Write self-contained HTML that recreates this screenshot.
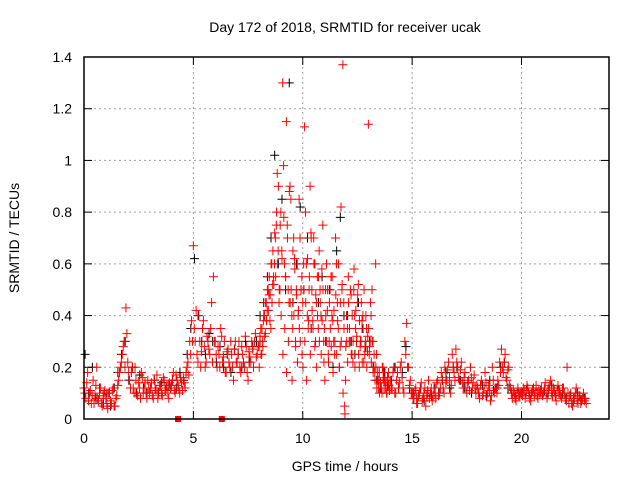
<!DOCTYPE html>
<html><head><meta charset="utf-8"><style>
html,body{margin:0;padding:0;background:#fff;}
svg{display:block;font-family:"Liberation Sans",sans-serif;}
</style></head><body>
<svg id="chart" width="640" height="480" viewBox="0 0 640 480">
<rect width="640" height="480" fill="#fff"/>
<text x="345" y="32" text-anchor="middle" font-size="14" fill="#000">Day 172 of 2018, SRMTID for receiver ucak</text>
<text x="345" y="471" text-anchor="middle" font-size="14" fill="#000">GPS time / hours</text>
<text transform="translate(19,238) rotate(-90)" text-anchor="middle" font-size="14" fill="#000">SRMTID / TECUs</text>
<g id="grid"></g><g id="ticks"></g><g id="marks"></g>
<rect x="84" y="57" width="525" height="362" fill="none" stroke="#000" stroke-width="1.5"/>
</svg>
<script>
const xTicks=[0,5,10,15,20];
const yTicks=[0,0.2,0.4,0.6,0.8,1,1.2,1.4];
const yTickLabels=["0","0.2","0.4","0.6","0.8","1","1.2","1.4"];
const redA=[
[.12,.08,.18,.1,.06,.15,.09,.2,.07,.12,.05,.1],
[.08,.04,.1,.06,.12,.05,.09,.15,.2,.25,.3,.43],
[.22,.15,.18,.12,.2,.1,.14,.08,.16,.12,.1,.15],
[.1,.14,.08,.12,.17,.1,.13,.09,.15,.12,.1,.14],
[.13,.18,.1,.15,.12,.16,.11,.14,.18,.22,.3,.38],
[.67,.3,.25,.4,.2,.35,.28,.22,.3,.25,.45,.55],
[.3,.2,.25,.35,.22,.3,.18,.27,.2,.25,.15,.3],
[.22,.3,.18,.25,.2,.28,.15,.24,.3,.2,.33,.25],
[.28,.35,.3,.4,.45,.5,.38,.6,.55,.7,.95,.45],
[.8,1.3,.6,1.15,.5,.9,.4,.7,.3,.6,.85,.5],
[.45,1.13,.6,.35,.9,.5,.7,.3,.55,.65,.4,.75],
[.35,.6,.25,.5,.4,.3,.7,.45,.2,.82,1.37,.05],
[.4,.55,.3,.25,.5,.35,.45,.2,.3,.4,.25,.35],
[1.14,.3,.5,.2,.6,.15,.18,.12,.2,.15,.1,.18],
[.15,.12,.2,.1,.18,.14,.22,.12,.3,.37,.2,.15],
[.1,.08,.12,.06,.1,.14,.08,.12,.09,.15,.1,.07],
[.12,.08,.15,.1,.18,.12,.2,.15,.22,.1,.25,.18],
[.27,.2,.15,.22,.12,.18,.1,.15,.2,.12,.17,.1],
[.12,.08,.15,.1,.18,.09,.13,.07,.2,.1,.12,.15],
[.22,.27,.18,.25,.15,.2,.12,.08,.1,.07,.12,.09],
[.1,.12,.08,.13,.1,.07,.11,.09,.13,.08,.1,.12],
[.1,.14,.08,.12,.15,.09,.11,.07,.13,.1,.08,.12],
[.08,.2,.06,.1,.05,.08,.12,.06,.09,.07,.1,.08]];
const redB=[
[.1,.14,.07,.11,.09,.06,.13,.08,.1,.06,.09,.11],
[.06,.1,.07,.11,.05,.08,.13,.18,.22,.28,.2,.33],
[.18,.12,.2,.1,.15,.09,.12,.18,.1,.14,.08,.12],
[.12,.09,.15,.11,.08,.13,.1,.16,.11,.13,.08,.12],
[.15,.11,.17,.13,.1,.14,.16,.12,.2,.17,.25,.3],
[.35,.42,.22,.3,.26,.38,.2,.32,.27,.35,.22,.3],
[.25,.28,.2,.32,.24,.18,.26,.22,.3,.2,.27,.22],
[.25,.2,.28,.22,.32,.18,.26,.22,.27,.3,.24,.28],
[.32,.25,.38,.33,.42,.48,.35,.52,.6,.75,.65,.5],
[.65,.98,.55,.75,.45,.85,.35,.62,.5,.4,.7,.55],
[.6,.8,.4,.5,.72,.38,.6,.45,.35,.5,.58,.3],
[.5,.42,.3,.55,.38,.25,.6,.35,.28,.5,.45,.15],
[.35,.3,.48,.22,.4,.3,.52,.28,.38,.22,.3,.26],
[.25,.4,.3,.18,.25,.12,.14,.1,.15,.12,.16,.11],
[.12,.18,.1,.15,.12,.2,.16,.1,.25,.2,.13,.1],
[.08,.11,.06,.09,.12,.07,.1,.05,.11,.08,.12,.09],
[.1,.14,.09,.12,.16,.1,.14,.19,.16,.13,.2,.15],
[.22,.16,.19,.14,.16,.12,.14,.11,.16,.14,.12,.13],
[.1,.13,.09,.12,.14,.1,.11,.09,.15,.12,.1,.13],
[.18,.2,.22,.16,.19,.13,.1,.11,.08,.1,.09,.1],
[.09,.11,.1,.12,.08,.1,.12,.1,.09,.11,.1,.09],
[.12,.1,.11,.13,.1,.12,.09,.11,.1,.09,.12,.1],
[.07,.1,.09,.06,.08,.1,.07,.09,.06,.08,.07,.06]];
const redCHours=[8,9,10,11,12,13];
const redC=[
[.2,.3,.25,.35,.28,.4,.32,.45,.38,.5,.42,.55,.48,.6,.45,.65,.52,.72,.55,.8,.6,.9,.5,.75],
[.4,.62,.25,.78,.35,.55,.18,.7,.3,.88,.45,.5,.15,.65,.4,.58,.28,.48,.22,.42,.35,.3,.5,.25],
[.2,.5,.3,.45,.15,.62,.38,.55,.25,.7,.42,.35,.6,.28,.48,.2,.4,.55,.3,.45,.25,.38,.5,.22],
[.15,.4,.3,.5,.22,.45,.35,.28,.55,.18,.42,.3,.48,.25,.38,.6,.2,.45,.3,.52,.1,.35,.02,.28],
[.3,.22,.45,.35,.5,.25,.4,.3,.58,.2,.42,.32,.48,.25,.38,.3,.45,.22,.35,.5,.28,.4,.2,.32],
[.35,.28,.45,.22,.3,.18,.25,.15,.2,.12,.18,.15,.1,.14,.12,.2,.16,.12,.18,.14,.1,.16,.13,.11]];
const black=[
[.25,.1,.2,.08,.12,.06],[.1,.05,.12,.18,.25,.3],[.15,.2,.1,.17,.12,.1],
[.12,.15,.1,.14,.11,.13],[.15,.12,.18,.15,.25,.35],[.62,.4,.3,.25,.33,.3],
[.22,.28,.2,.25,.18,.27],[.25,.2,.3,.22,.28,.3],[.4,.45,.55,.7,1.02,.6],
[.85,.5,1.3,.45,.6,.82],[.5,.7,.35,.6,.45,.55],[.3,.5,.2,.65,.78,.4],
[.4,.3,.25,.45,.35,.28],[.3,.2,.15,.12,.18,.13],[.15,.2,.12,.18,.28,.12],
[.1,.08,.12,.07,.1,.09],[.12,.1,.15,.18,.12,.2],[.2,.15,.12,.14,.1,.12],
[.1,.13,.09,.15,.11,.12],[.2,.22,.12,.1,.09,.1],[.1,.11,.09,.12,.1,.11],
[.11,.1,.13,.09,.11,.1],[.08,.09,.07,.1,.07,.08]];
const zeroTimes=[4.3,6.3];

const NS="http://www.w3.org/2000/svg";
const X0=84,X1=609,Y0=419,Y1=57,XMAX=24,YMAX=1.4;
function xs(v){return X0+(X1-X0)*v/XMAX;}
function ys(v){return Y0-(Y0-Y1)*v/YMAX;}
function mk(tag,attrs,parent){const e=document.createElementNS(NS,tag);for(const k in attrs)e.setAttribute(k,attrs[k]);parent.appendChild(e);return e;}
const grid=document.getElementById('grid'),ticks=document.getElementById('ticks'),marks=document.getElementById('marks');
yTicks.forEach((t,i)=>{
  const y=ys(t);
  if(i>0&&i<yTicks.length-1){const g=mk('line',{x1:X0,x2:X1,y1:y,y2:y,stroke:'#a0a0a0','stroke-dasharray':'2,3'},grid);
  
  }
  mk('line',{x1:X0,x2:X0+8,y1:y,y2:y,stroke:'#000'},ticks);
  mk('line',{x1:X1,x2:X1-8,y1:y,y2:y,stroke:'#000'},ticks);
  const tx=mk('text',{x:X0-12,y:y+5,'text-anchor':'end','font-size':14},ticks);
  tx.textContent=yTickLabels[i];
  
  
});
xTicks.forEach(t=>{
  const x=xs(t);
  if(t>0){const g=mk('line',{x1:x,x2:x,y1:Y0,y2:Y1,stroke:'#a0a0a0','stroke-dasharray':'2,3'},grid);
  
  }
  mk('line',{x1:x,x2:x,y1:Y0,y2:Y0-8,stroke:'#000'},ticks);
  mk('line',{x1:x,x2:x,y1:Y1,y2:Y1+8,stroke:'#000'},ticks);
  const tx=mk('text',{x:x,y:Y0+24,'text-anchor':'middle','font-size':14},ticks);
  tx.textContent=String(t);
  
  
});
function plus(t,v,color){
  const x=xs(t),y=ys(v);
  const p=mk('path',{d:`M${x-4.5},${y}h9M${x},${y-4.5}v9`,stroke:color,'stroke-width':1,fill:'none'},marks);
  
  
}
black.forEach((arr,h)=>arr.forEach((v,k)=>plus(h+(k+0.3)/arr.length,v,'#000')));
redA.forEach((arr,h)=>arr.forEach((v,k)=>plus(h+k/arr.length,v,'#ff0000')));
redB.forEach((arr,h)=>arr.forEach((v,k)=>plus(h+(k+0.5)/arr.length,v,'#ff0000')));
redC.forEach((arr,i)=>arr.forEach((v,k)=>plus(redCHours[i]+(k+0.25)/arr.length,v,'#ff0000')));
zeroTimes.forEach(t=>{
  const r=mk('rect',{x:xs(t)-3,y:ys(0)-3,width:6,height:6,fill:'#ff0000'},marks);
  
  
});
</script>
</body></html>
